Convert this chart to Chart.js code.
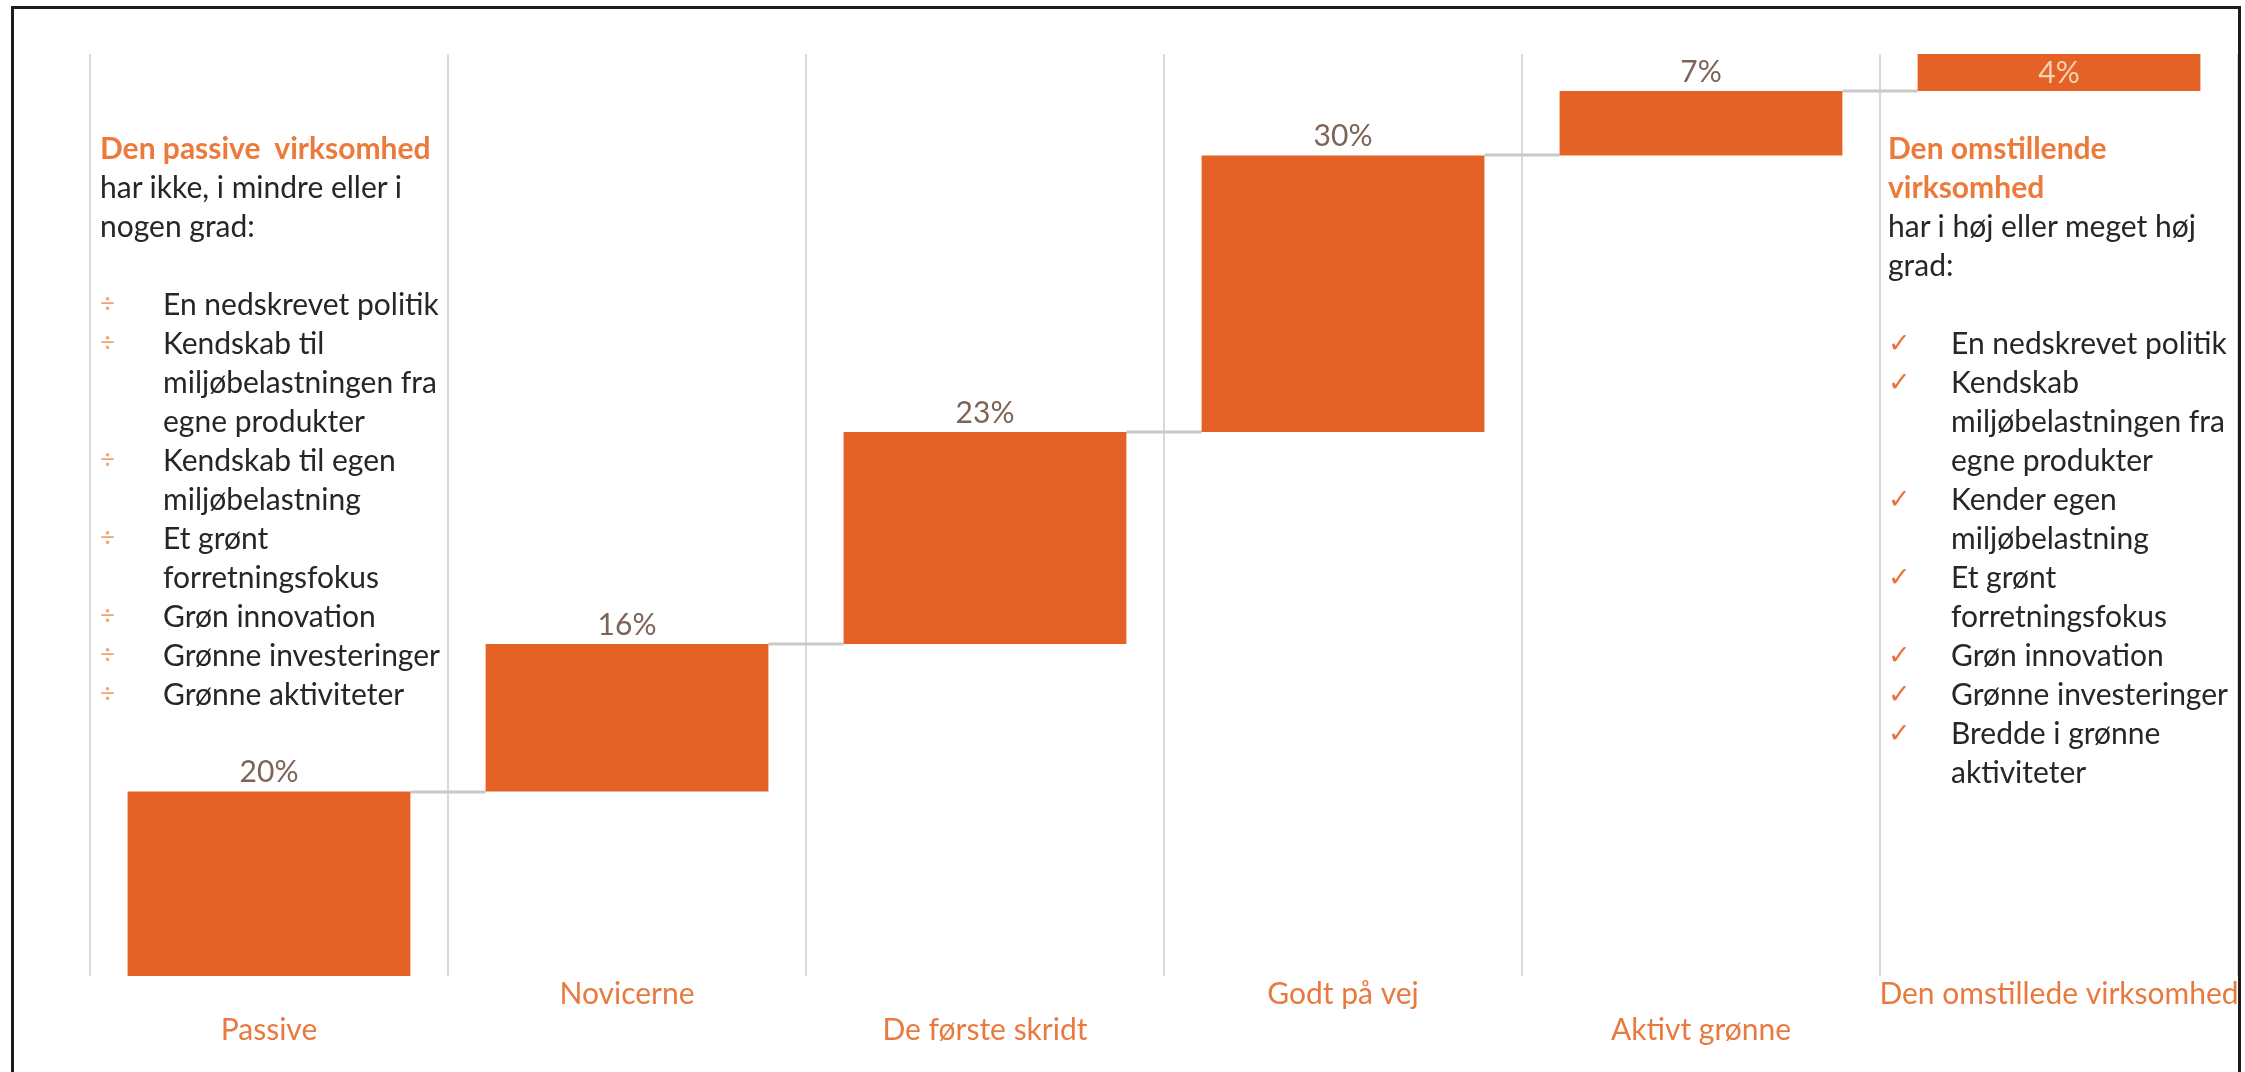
<!DOCTYPE html>
<html>
<head>
<meta charset="utf-8">
<script src="https://cdn.jsdelivr.net/npm/chart.js@4.4.1/dist/chart.umd.min.js"></script>
<style>
  html, body { margin: 0; padding: 0; background: #fff; }
  #wrap { position: relative; width: 2245px; height: 1072px; overflow: hidden; font-family: Lato, 'Open Sans', sans-serif; }
  #frame { position: absolute; left: 11px; top: 6px; width: 2230px; height: 1120px; border: 3px solid #1c1c1c; box-sizing: border-box; }
  #chart { position: absolute; left: 0; top: 0; }
  .note { position: absolute; font-size: 30px; line-height: 39px; color: #262626; white-space: nowrap; }
  .note .head { color: #EC7A3A; font-weight: bold; }
  .note .gap { height: 39px; }
  .note .item { position: relative; padding-left: 63px; }
  .note .mark { position: absolute; left: 0; top: 0; color: #F2A36E; font-size: 26px; }
  #right .mark { color: #E8733A; font-family: 'DejaVu Sans', sans-serif; font-size: 27px; left: 0; }
</style>
</head>
<body>
<div id="wrap">
  <canvas id="chart" width="2245" height="1072"></canvas>
  <div id="frame"></div>

  <div class="note" id="left" style="left:100px; top:128px;">
    <div class="head">Den passive&nbsp; virksomhed</div>
    <div>har ikke, i mindre eller i</div>
    <div>nogen grad:</div>
    <div class="gap"></div>
    <div class="item"><span class="mark">÷</span>En nedskrevet politik</div>
    <div class="item"><span class="mark">÷</span>Kendskab til<br>miljøbelastningen fra<br>egne produkter</div>
    <div class="item"><span class="mark">÷</span>Kendskab til egen<br>miljøbelastning</div>
    <div class="item"><span class="mark">÷</span>Et grønt<br>forretningsfokus</div>
    <div class="item"><span class="mark">÷</span>Grøn innovation</div>
    <div class="item"><span class="mark">÷</span>Grønne investeringer</div>
    <div class="item"><span class="mark">÷</span>Grønne aktiviteter</div>
  </div>

  <div class="note" id="right" style="left:1888px; top:128px;">
    <div class="head">Den omstillende<br>virksomhed</div>
    <div>har i høj eller meget høj<br>grad:</div>
    <div class="gap"></div>
    <div class="item"><span class="mark">✓</span>En nedskrevet politik</div>
    <div class="item"><span class="mark">✓</span>Kendskab<br>miljøbelastningen fra<br>egne produkter</div>
    <div class="item"><span class="mark">✓</span>Kender egen<br>miljøbelastning</div>
    <div class="item"><span class="mark">✓</span>Et grønt<br>forretningsfokus</div>
    <div class="item"><span class="mark">✓</span>Grøn innovation</div>
    <div class="item"><span class="mark">✓</span>Grønne investeringer</div>
    <div class="item"><span class="mark">✓</span>Bredde i grønne<br>aktiviteter</div>
  </div>
</div>

<script>
// segments of the green transition, share of companies in %
var categories = ['Passive', 'Novicerne', 'De første skridt', 'Godt på vej', 'Aktivt grønne', 'Den omstillede virksomhed'];
var shares = [20, 16, 23, 30, 7, 4];
var shareLabels = ['20%', '16%', '23%', '30%', '7%', '4%'];

var barColor = '#E46225';
var labelColor = '#7E6456';
var axisColor = '#E97A3F';

// waterfall: every bar starts where the previous one ended
var run = 0;
var segments = shares.map(function (v) {
  var seg = [run, run + v];
  run += v;
  return seg;
});

var connectors = {
  id: 'connectors',
  beforeDatasetsDraw: function (chart) {
    var meta = chart.getDatasetMeta(0);
    var yScale = chart.scales.y;
    var ctx = chart.ctx;
    ctx.save();
    ctx.strokeStyle = '#C9C9C9';
    ctx.lineWidth = 3;
    for (var i = 0; i < meta.data.length - 1; i++) {
      var a = meta.data[i], b = meta.data[i + 1];
      var py = Math.round(yScale.getPixelForValue(segments[i][1]));
      ctx.beginPath();
      ctx.moveTo(a.x + a.width / 2, py);
      ctx.lineTo(b.x - b.width / 2, py);
      ctx.stroke();
    }
    ctx.restore();
  }
};

var valueLabels = {
  id: 'valueLabels',
  afterDatasetsDraw: function (chart) {
    var meta = chart.getDatasetMeta(0);
    var ctx = chart.ctx;
    ctx.save();
    ctx.font = '30px Lato';
    ctx.textAlign = 'center';
    ctx.textBaseline = 'middle';
    meta.data.forEach(function (bar, i) {
      var top = Math.min(bar.y, bar.base);
      var bottom = Math.max(bar.y, bar.base);
      if (top - chart.chartArea.top < 36) {
        // no room above the last bar, so the label goes inside
        ctx.fillStyle = '#F9D0B3';
        ctx.fillText(shareLabels[i], bar.x, (top + bottom) / 2 + 1);
      } else {
        ctx.fillStyle = labelColor;
        ctx.fillText(shareLabels[i], bar.x, top - 19);
      }
    });
    ctx.restore();
  }
};

var draw = function () {
  new Chart(document.getElementById('chart'), {
    type: 'bar',
    data: {
      labels: categories,
      datasets: [{
        data: segments,
        backgroundColor: barColor,
        borderWidth: 0,
        categoryPercentage: 1,
        barPercentage: 0.79
      }]
    },
    options: {
      responsive: false,
      devicePixelRatio: 1,
      animation: false,
      layout: { padding: { left: 90, right: 7, top: 54, bottom: 24 } },
      plugins: { legend: { display: false }, tooltip: { enabled: false } },
      scales: {
        x: {
          grid: { color: '#D9D9D9', lineWidth: 2, drawTicks: false, offset: true },
          border: { display: false },
          ticks: {
            autoSkip: false,
            maxRotation: 0,
            padding: 0,
            color: axisColor,
            font: { family: 'Lato', size: 30, lineHeight: 1.2 },
            callback: function (value, index) {
              var name = categories[index];
              return index % 2 === 0 ? ['', name] : [name, ''];
            }
          },
          // the long last label fits inside the canvas, keep the plot full width
          afterFit: function (scale) {
            scale.paddingLeft = 0;
            scale.paddingRight = 0;
          }
        },
        y: { display: false, min: 0, max: 100 }
      }
    },
    plugins: [connectors, valueLabels]
  });
};

document.fonts.load('30px Lato').then(draw, draw);
</script>
</body>
</html>
